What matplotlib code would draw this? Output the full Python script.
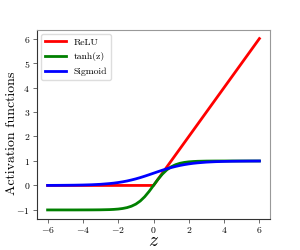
import matplotlib
matplotlib.use("Agg")
import matplotlib.pyplot as plt

plt.rcParams['font.family'] = ['cmr10']
plt.rcParams['mathtext.fontset'] = 'cm'
plt.rcParams['axes.formatter.use_mathtext'] = True

z = [-6, -5.5, -5, -4.5, -4, -3.5, -3, -2.5, -2.25, -2, -1.75, -1.5, -1.25, -1, -0.75,
     -0.5, -0.25, 0, 0.25, 0.5, 0.75, 1, 1.25, 1.5, 1.75, 2, 2.25, 2.5, 3, 3.5, 4,
     4.5, 5, 5.5, 6]
relu = [0, 0, 0, 0, 0, 0, 0, 0, 0, 0, 0, 0, 0, 0, 0,
        0, 0, 0, 0.25, 0.5, 0.75, 1, 1.25, 1.5, 1.75, 2, 2.25, 2.5, 3, 3.5, 4,
        4.5, 5, 5.5, 6]
tanh = [-1.0, -1.0, -1.0, -1.0, -0.999, -0.998, -0.995, -0.987, -0.978, -0.964, -0.941,
        -0.905, -0.848, -0.762, -0.635, -0.462, -0.245, 0.0, 0.245, 0.462, 0.635, 0.762,
        0.848, 0.905, 0.941, 0.964, 0.978, 0.987, 0.995, 0.998, 0.999, 1.0, 1.0, 1.0, 1.0]
sigmoid = [0.002, 0.004, 0.007, 0.011, 0.018, 0.029, 0.047, 0.076, 0.095, 0.119, 0.148,
           0.182, 0.223, 0.269, 0.321, 0.378, 0.438, 0.5, 0.562, 0.622, 0.679, 0.731,
           0.777, 0.818, 0.852, 0.881, 0.905, 0.924, 0.953, 0.971, 0.982, 0.989, 0.993,
           0.996, 0.998]

fig = plt.figure(figsize=(3.0, 2.5), dpi=100)
ax = fig.add_axes([37/300, 1 - 218.5/250, (270-37)/300, (218.5-30)/250])

ax.plot(z, relu, color='#ff0000', lw=2, label='ReLU')
ax.plot(z, tanh, color='#008000', lw=2, label='tanh(z)')
ax.plot(z, sigmoid, color='#0000ff', lw=2, label='Sigmoid')

ax.set_xlim(-6.6, 6.6)
ax.set_ylim(-1.35, 6.35)
ax.set_xticks([-6, -4, -2, 0, 2, 4, 6])
ax.set_yticks([-1, 0, 1, 2, 3, 4, 5, 6])
ax.tick_params(labelsize=7, length=3, width=0.6, color='#555555', pad=2)

for s in ['top', 'right']:
    ax.spines[s].set_color('#999999')
for s in ['left', 'bottom']:
    ax.spines[s].set_color('#333333')
for s in ax.spines.values():
    s.set_linewidth(0.8)

ax.set_xlabel('$z$', fontsize=14, va='baseline')
ax.xaxis.set_label_coords(0.5, -0.145)
ax.set_ylabel('Activation functions', fontsize=10, va='center')
ax.yaxis.set_label_coords(-0.107, 0.45)

leg = ax.legend(loc='upper left', fontsize=7, handlelength=2.2, borderaxespad=0.4,
                framealpha=1, edgecolor='#dddddd', fancybox=True, labelspacing=0.6)

fig.savefig('out.png', dpi=100)
